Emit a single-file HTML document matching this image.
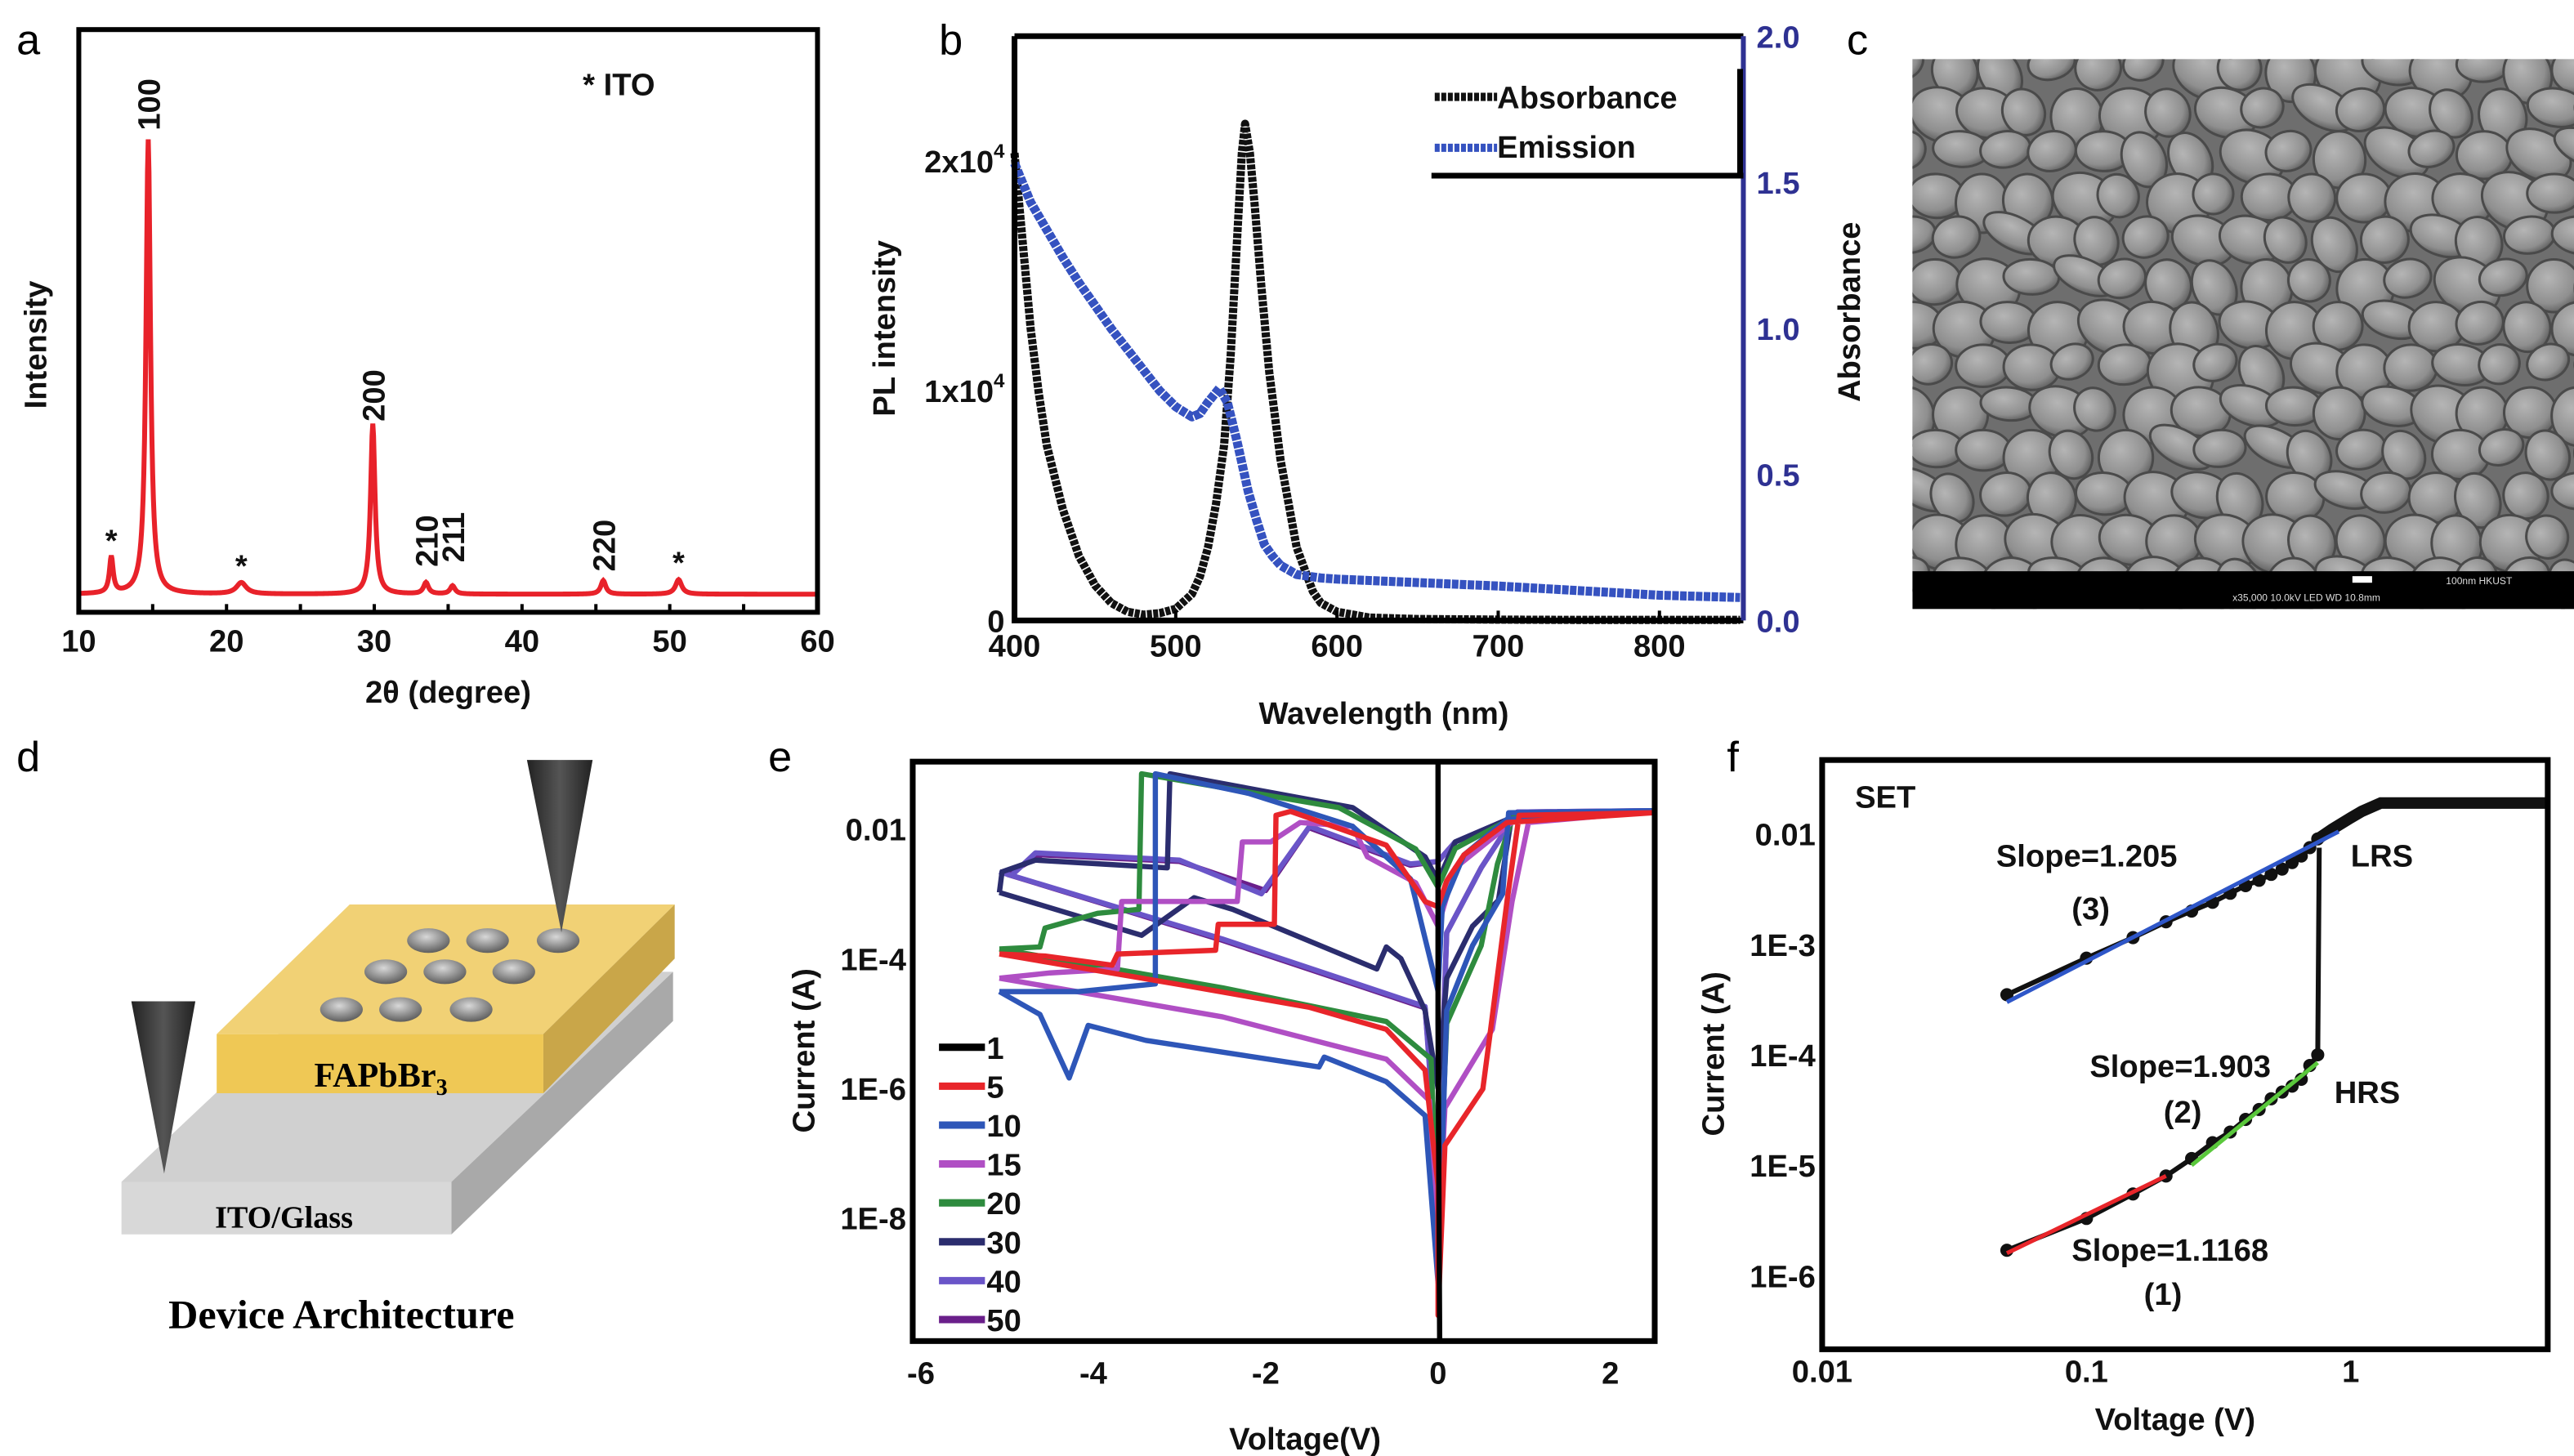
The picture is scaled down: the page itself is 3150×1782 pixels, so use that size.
<!DOCTYPE html>
<html><head><meta charset="utf-8"><style>
html,body{margin:0;padding:0;background:#fff;}
svg{display:block;}
text{font-family:"Liberation Sans",Arial,sans-serif;}
.t{font-weight:bold;font-size:19px;fill:#111;}
.serif{font-family:"Liberation Serif",serif;font-weight:bold;}
</style></head><body>
<svg id="fig" width="3150" height="1782" viewBox="0 0 1568 887" xmlns="http://www.w3.org/2000/svg">
<defs>
<radialGradient id="grain" cx="40%" cy="35%" r="70%"><stop offset="0" stop-color="#b5b5b5"/><stop offset="0.7" stop-color="#8f8f8f"/><stop offset="1" stop-color="#5a5a5a"/></radialGradient>
<radialGradient id="dot" cx="45%" cy="35%" r="65%"><stop offset="0" stop-color="#d8d8d8"/><stop offset="1" stop-color="#5e5e5e"/></radialGradient>
<linearGradient id="cone" x1="0" x2="1"><stop offset="0" stop-color="#222"/><stop offset="0.5" stop-color="#555"/><stop offset="1" stop-color="#222"/></linearGradient>
<clipPath id="semclip"><rect x="1165" y="36" width="403" height="335"/></clipPath>
</defs>
<text x="10" y="33" font-size="26">a</text>
<text x="572" y="33" font-size="26">b</text>
<text x="1125" y="33" font-size="26">c</text>
<text x="10" y="470" font-size="26">d</text>
<text x="468" y="470" font-size="26">e</text>
<text x="1052" y="470" font-size="26">f</text>

<g id="sem" clip-path="url(#semclip)">
<rect x="1165" y="36" width="403" height="335" fill="#6e6e6e"/>
<g id="grains"></g>
<rect x="1165" y="348" width="403" height="23" fill="#000"/>
<rect x="1433" y="351" width="12" height="4" fill="#fff"/>
<text x="1490" y="356" font-size="6" fill="#ddd" font-family="Liberation Mono">100nm HKUST</text>
<text x="1360" y="366" font-size="6" fill="#ddd" font-family="Liberation Mono">x35,000   10.0kV LED    WD 10.8mm</text>
</g>

<g>
<polygon points="74,720 275,720 410,592 210,592" fill="#d0d0d0"/>
<polygon points="275,720 275,752 410,622 410,592" fill="#a9a9a9"/>
<rect x="74" y="720" width="201" height="32" fill="#d8d8d8"/>
<polygon points="132,630 331,630 411,551 213,551" fill="#f1d175"/>
<polygon points="331,630 331,666 411,584 411,551" fill="#c9a649"/>
<rect x="132" y="630" width="199" height="36" fill="#efc855"/>
<g id="electrodes"></g>
<polygon points="321,463 361,463 342,568" fill="url(#cone)"/>
<polygon points="80,610 119,610 100,715" fill="url(#cone)"/>
<text x="232" y="662" text-anchor="middle" font-size="21" class="serif">FAPbBr<tspan font-size="14" dy="5">3</tspan></text>
<text x="173" y="748" text-anchor="middle" font-size="19" class="serif">ITO/Glass</text>
<text x="208" y="809" text-anchor="middle" font-size="25" class="serif">Device Architecture</text>
</g>
<g id="pa"></g><g id="pb"></g><g id="pe"></g><g id="pf"></g>
</svg>
<script>
const NS="http://www.w3.org/2000/svg";
function mk(tag,attrs,parent,txt){const e=document.createElementNS(NS,tag);for(const k in attrs)e.setAttribute(k,attrs[k]);if(txt!==undefined)e.textContent=txt;parent.appendChild(e);return e;}

const xrdPeakPos=[12.2,14.7,21.0,29.9,33.5,35.3,45.5,50.6];
const xrdPeakHeight=[8,100,2.5,37.5,2.5,1.8,3,3.2];
const xrdPeakWidth=[0.15,0.18,0.4,0.18,0.2,0.2,0.2,0.25];
const xrdTicks=[10,20,30,40,50,60];
const xrdLabels=[["100",14.7,102],["200",29.9,38],["210",33.5,6],["211",35.3,7],["220",45.5,5]];
const xrdStars=[12.2,21.0,50.6];

const absWl=[400,405,410,415,420,430,440,450,460,470,480,490,500,510,515,520,525,530,534,538,541,543,546,549,553,558,565,575,585,590,600,620,650,700,750,800,850];
const absVal=[1.6,1.3,1.0,0.78,0.6,0.38,0.22,0.12,0.06,0.03,0.02,0.025,0.04,0.09,0.15,0.25,0.4,0.6,0.9,1.3,1.6,1.7,1.6,1.42,1.15,0.85,0.55,0.25,0.1,0.06,0.03,0.01,0.005,0.003,0.002,0.002,0.002];
const plWl=[400,410,420,430,440,450,460,470,480,490,500,510,515,520,527,532,538,545,550,555,560,565,575,590,600,650,700,750,800,850];
const plVal=[1.99,1.82,1.7,1.58,1.47,1.37,1.27,1.18,1.09,1.0,0.93,0.886,0.9,0.95,1.01,0.95,0.78,0.56,0.44,0.33,0.28,0.24,0.2,0.185,0.18,0.165,0.15,0.13,0.11,0.10];
const bXTicks=[400,500,600,700,800];
const bRightTicks=[0,0.5,1.0,1.5,2.0];

const eNames=["1","5","10","15","20","30","40","50"];
const eColors=["#000","#e8252a","#2e56b8","#b04fc4","#2e8b3e","#2b2d6e","#6a55c8","#6a1f8a"];
const eV1=[0,0,0.02,0];
const eL1=[-0.95,-5,-9.9,-9.9];
const eV5=[-5.09,-3,-1.5,-0.6,-0.15,0,0,0.08,0.52,0.6,0.8,0.94,2.5,0.8,0.3,0.1,0,-0.15,-0.6,-1.71,-1.88,-1.9,-2.55,-2.58,-3.72,-3.78,-4.56,-5.09];
const eL5=[-3.93,-4.4,-4.75,-5.09,-5.72,-7.5,-9.5,-6.88,-6.01,-5.2,-3.12,-1.79,-1.75,-1.9,-2.4,-2.8,-3.2,-3.12,-2.25,-1.73,-1.79,-3.47,-3.47,-3.87,-3.93,-4.1,-3.96,-3.93];
const eV10=[-5.09,-4.62,-4.28,-4.06,-3.39,-1.38,-1.32,-0.6,-0.15,0,0.1,0.4,0.75,0.82,2.5,0.8,0.3,0.05,0,-0.32,-0.99,-2.2,-3.28,-3.28,-4.17,-5.09];
const eL10=[-4.51,-4.86,-5.84,-5.03,-5.26,-5.67,-5.52,-5.9,-6.42,-9,-4.8,-3.8,-3.0,-1.75,-1.72,-1.85,-2.4,-3.2,-4.5,-2.77,-1.96,-1.45,-1.15,-4.39,-4.51,-4.51];
const eV15=[-5.09,-2.5,-0.6,-0.1,0,0.08,0.63,0.86,1.05,2.5,0.9,0.2,0,-0.26,-0.82,-0.99,-1.6,-1.94,-2.27,-2.33,-3.67,-3.72,-4.5,-5.09];
const eL15=[-4.3,-4.9,-5.55,-6.19,-8.5,-6.3,-5.09,-3.12,-1.9,-1.73,-1.85,-2.6,-3.5,-2.83,-2.43,-1.96,-1.9,-2.2,-2.2,-3.12,-3.12,-4.16,-4.22,-4.3];
const eV20=[-5.09,-2.5,-0.6,-0.08,0,0.1,0.5,0.69,0.86,2.5,0.9,0.2,0,-0.26,-1.15,-3.44,-3.47,-3.95,-4.56,-4.62,-5.09];
const eL20=[-3.85,-4.45,-4.97,-5.55,-8.3,-5.0,-3.8,-2.54,-1.85,-1.74,-1.8,-2.3,-2.9,-2.31,-1.67,-1.15,-3.24,-3.3,-3.53,-3.82,-3.85];
const eV30=[-5.09,-3.44,-2.83,-2.38,-0.71,-0.6,-0.43,-0.15,0,0.1,0.4,0.7,0.85,2.5,0.9,0.2,0,-0.15,-0.99,-3.11,-3.14,-4.67,-5.06,-5.09];
const eL30=[-2.98,-3.64,-3.06,-3.24,-4.16,-3.82,-4.0,-4.8,-6.0,-4.3,-3.5,-3.1,-1.85,-1.74,-1.8,-2.2,-2.8,-2.43,-1.67,-1.15,-2.6,-2.48,-2.66,-2.98];
const eV40=[-5.09,-2.5,-0.15,0,0.1,0.5,0.92,2.5,0.9,0.2,0,-0.32,-1.49,-2.05,-3.0,-4.67,-4.95,-5.09];
const eL40=[-2.66,-3.7,-4.74,-7.5,-3.6,-2.6,-1.74,-1.72,-1.8,-2.2,-2.5,-2.54,-1.96,-3.0,-2.48,-2.37,-2.72,-2.66];
const eV50=[-5.0,-2.5,-0.15,0,0.1,0.5,0.92,2.5,0.9,0.2,0,-0.32,-1.5,-2.0,-3.0,-4.6,-5.0];
const eL50=[-2.7,-3.72,-4.76,-7.2,-3.6,-2.6,-1.74,-1.72,-1.8,-2.2,-2.5,-2.56,-1.98,-2.95,-2.5,-2.4,-2.7];
const eSeriesV=[eV1,eV5,eV10,eV15,eV20,eV30,eV40,eV50];
const eSeriesL=[eL1,eL5,eL10,eL15,eL20,eL30,eL40,eL50];
const eXTicks=[-6,-4,-2,0,2];
const eYTicks=[-2,-4,-6,-8];
const eYTickLabels=["0.01","1E-4","1E-6","1E-8"];

const fHrsV=[0.05,0.1,0.15,0.2,0.25,0.3,0.35,0.4,0.45,0.5,0.55,0.6,0.65,0.7,0.75];
const fHrsI=[1.7e-6,3.3e-6,5.5e-6,8e-6,1.15e-5,1.6e-5,2.0e-5,2.6e-5,3.2e-5,4.0e-5,4.6e-5,5.2e-5,6.0e-5,8e-5,1e-4];
const fLrsV=[0.05,0.1,0.15,0.2,0.25,0.3,0.35,0.4,0.45,0.5,0.55,0.6,0.65,0.7,0.75];
const fLrsI=[3.5e-4,7.5e-4,1.15e-3,1.6e-3,2.0e-3,2.4e-3,2.9e-3,3.4e-3,3.8e-3,4.3e-3,4.8e-3,5.5e-3,6.3e-3,7.5e-3,9e-3];
const fSatV=[0.75,0.85,1.0,1.1,1.3,1.6,2,2.5,3,3.5,4,4.5,5,5.5];
const fSatI=[9e-3,0.011,0.014,0.016,0.019,0.019,0.019,0.019,0.019,0.019,0.019,0.019,0.019,0.019];
const fFitV=[[0.05,0.2],[0.25,0.75],[0.05,0.9]];
const fFitI=[[1.6e-6,8e-6],[1e-5,8.5e-5],[3e-4,1.05e-2]];
const fFitColors=["#e8252a","#5ac83c","#2e56c8"];
const fXTicks=[0.01,0.1,1];
const fXTickLabels=["0.01","0.1","1"];
const fYTicks=[0.01,1e-3,1e-4,1e-5,1e-6];
const fYTickLabels=["0.01","1E-3","1E-4","1E-5","1E-6"];

(function(){const g=document.getElementById('grains');
for(let r=0;r<13;r++){for(let c=0;c<15;c++){
 const s=Math.sin(r*12.9898+c*78.233)*43758.5453, f=s-Math.floor(s);
 const s2=Math.sin(r*3.1+c*7.7)*9999, f2=s2-Math.floor(s2);
 const cx=1160+c*29+(r%2)*14+f*10, cy=38+r*26+f2*8, rx=12+f*9, ry=10+f2*8;
 const e=mk('ellipse',{cx:cx,cy:cy,rx:rx,ry:ry,fill:'url(#grain)',stroke:'#4a4a4a','stroke-width':1.5,transform:`rotate(${(f-0.5)*60} ${cx} ${cy})`},g);
 
 
}}})();
(function(){const g=document.getElementById('electrodes');
const pts=[[261,573],[297,573],[340,573],[235,592],[271,592],[313,592],[208,615],[244,615],[287,615]];
pts.forEach(p=>{const e=mk('ellipse',{cx:p[0],cy:p[1],rx:13,ry:7.5,fill:'url(#dot)'},g);
 
 });})();

(function(){const g=document.getElementById('pa');
const xa=v=>48+(v-10)*9, ya=v=>362-v*2.77;
const ser=[];for(let t=10;t<=60.001;t+=0.05){let s=0;for(let i=0;i<xrdPeakPos.length;i++){const w=xrdPeakWidth[i];s+=xrdPeakHeight[i]/(1+Math.pow((t-xrdPeakPos[i])/w,2));}ser.push(xa(t).toFixed(2)+','+ya(s).toFixed(2));}
const p=mk('polyline',{points:ser.join(' '),fill:'none',stroke:'#e8222a','stroke-width':3},g);


const box=mk('rect',{x:48,y:18,width:450,height:355,fill:'none',stroke:'#000','stroke-width':3},g);


for(let t=10;t<=60;t+=5){const tk=mk('line',{x1:xa(t),x2:xa(t),y1:373,y2:368,stroke:'#000','stroke-width':2},g);
 
 }
xrdTicks.forEach(t=>{const l=mk('text',{x:xa(t),y:397,'text-anchor':'middle',class:'t','font-size':20},g,String(t));
 
 });
xrdLabels.forEach(d=>{const x=xa(d[1])+7,y=ya(d[2]);const l=mk('text',{x:x,y:y,transform:`rotate(-90 ${x} ${y})`,class:'t','font-size':20},g,d[0]);
 
 });
xrdStars.forEach(s=>{const i=xrdPeakPos.indexOf(s);const l=mk('text',{x:xa(s),y:ya(xrdPeakHeight[i])-4,'text-anchor':'middle',class:'t','font-size':18},g,'*');
 
 });
const leg=mk('text',{x:355,y:58,class:'t','font-size':21},g,'*  ITO');


const xt=mk('text',{x:273,y:428,'text-anchor':'middle',class:'t','font-size':20},g,'2θ (degree)');


const yt=mk('text',{x:28,y:210,'text-anchor':'middle',class:'t','font-size':20,transform:'rotate(-90 28 210)'},g,'Intensity');


})();

(function(){const g=document.getElementById('pb');
const xb=w=>618+(w-400)*0.9822, yl=v=>378-v*140, yr=v=>378-v*178;
const ap=absWl.map((w,i)=>xb(w)+','+yr(absVal[i])).join(' ');
const a=mk('polyline',{points:ap,fill:'none',stroke:'#111','stroke-width':5,'stroke-dasharray':'3 0.8','stroke-linejoin':'round'},g);


const pp=plWl.map((w,i)=>xb(w)+','+yl(plVal[i])).join(' ');
const pl=mk('polyline',{points:pp,fill:'none',stroke:'#3552c0','stroke-width':5.5,'stroke-dasharray':'4 0.8','stroke-linejoin':'round'},g);


const box=mk('path',{d:'M618,22 H1062 M618,22 V378 H1062',fill:'none',stroke:'#000','stroke-width':3.5},g);


const rs=mk('line',{x1:1062,x2:1062,y1:22,y2:378,stroke:'#2e3192','stroke-width':3},g);


bXTicks.forEach(t=>{const l=mk('text',{x:xb(t),y:400,'text-anchor':'middle',class:'t','font-size':20},g,String(t));
 
 
 const tk=mk('line',{x1:xb(t),x2:xb(t),y1:378,y2:372,stroke:'#000','stroke-width':2},g);
 
 });
bRightTicks.forEach(t=>{const l=mk('text',{x:1070,y:yr(t)+7,class:'t','font-size':20,style:'fill:#2e3192'},g,t.toFixed(1));
 
 });
[["0",0],["1x10",1],["2x10",2]].forEach(d=>{const l=mk('text',{x:612,y:yl(d[1])+7,'text-anchor':'end',class:'t','font-size':19},g);
 
 
 if(d[1]>0){mk('tspan',{},l,d[0]);mk('tspan',{'font-size':12,dy:-9},l,'4');} else l.textContent=d[0];});
const yt=mk('text',{x:545,y:200,'text-anchor':'middle',class:'t','font-size':20,transform:'rotate(-90 545 200)'},g,'PL intensity');


const yt2=mk('text',{x:1133,y:190,'text-anchor':'middle',class:'t','font-size':20,transform:'rotate(-90 1133 190)'},g,'Absorbance');


const xt=mk('text',{x:843,y:441,'text-anchor':'middle',class:'t','font-size':20},g,'Wavelength (nm)');


const lb=mk('path',{d:'M872,107 H1062 M1060,42 V107',fill:'none',stroke:'#000','stroke-width':3.5},g);


const l1=mk('line',{x1:874,x2:912,y1:59,y2:59,stroke:'#111','stroke-width':5,'stroke-dasharray':'3 1'},g);


const t1=mk('text',{x:912,y:66,class:'t','font-size':20},g,'Absorbance');


const l2=mk('line',{x1:874,x2:912,y1:90,y2:90,stroke:'#3552c0','stroke-width':5,'stroke-dasharray':'3 1'},g);


const t2=mk('text',{x:912,y:96,class:'t','font-size':20},g,'Emission');


})();

(function(){const g=document.getElementById('pe');
const xe=v=>876+v*52.5, ye=l=>505-(l+2)*39.5;
for(let s=eSeriesV.length-1;s>=0;s--){const V=eSeriesV[s],L=eSeriesL[s];
 const pts=V.map((v,i)=>xe(v).toFixed(1)+','+ye(L[i]).toFixed(1)).join(' ');
 const p=mk('polyline',{points:pts,fill:'none',stroke:eColors[s],'stroke-width':3.2,'stroke-linejoin':'round'},g);
 
 }
const box=mk('rect',{x:556,y:464,width:452,height:353,fill:'none',stroke:'#000','stroke-width':3.5},g);


eXTicks.forEach(t=>{const l=mk('text',{x:xe(t),y:843,'text-anchor':'middle',class:'t','font-size':20},g,String(t));
 
 });
eYTicks.forEach((t,i)=>{const l=mk('text',{x:552,y:ye(t)+7,'text-anchor':'end',class:'t','font-size':20},g,eYTickLabels[i]);
 
 });
eNames.forEach((n,i)=>{const y=638+i*23.7;
 const sw=mk('line',{x1:572,x2:600,y1:y,y2:y,stroke:eColors[i],'stroke-width':4.5},g);
 
 
 const t=mk('text',{x:601,y:y+7,class:'t','font-size':18},g,n);
 
 });
const xt=mk('text',{x:795,y:883,'text-anchor':'middle',class:'t','font-size':21},g,'Voltage(V)');


const yt=mk('text',{x:496,y:640,'text-anchor':'middle',class:'t','font-size':21,transform:'rotate(-90 496 640)'},g,'Current (A)');


})();

(function(){const g=document.getElementById('pf');
const xf=v=>1432+Math.log10(v)*161, yf=i=>508-(Math.log10(i)+2)*67.3;
const line=(V,I)=>V.map((v,k)=>xf(v).toFixed(1)+','+yf(I[k]).toFixed(1)).join(' ');
const h=mk('polyline',{points:line(fHrsV,fHrsI)+' '+xf(0.76)+','+yf(7.5e-3),fill:'none',stroke:'#111','stroke-width':3},g);


const lr=mk('polyline',{points:line(fLrsV,fLrsI),fill:'none',stroke:'#111','stroke-width':3},g);


const st=mk('polyline',{points:line(fSatV,fSatI),fill:'none',stroke:'#111','stroke-width':7},g);


fHrsV.forEach((v,k)=>{const c=mk('circle',{cx:xf(v),cy:yf(fHrsI[k]),r:4,fill:'#111'},g);
 
 });
fLrsV.forEach((v,k)=>{const c=mk('circle',{cx:xf(v),cy:yf(fLrsI[k]),r:4,fill:'#111'},g);
 
 });
fFitV.forEach((V,k)=>{const l=mk('line',{x1:xf(V[0]),y1:yf(fFitI[k][0]),x2:xf(V[1]),y2:yf(fFitI[k][1]),stroke:fFitColors[k],'stroke-width':2.5},g);
 
 });
const box=mk('rect',{x:1110,y:463,width:442,height:359,fill:'none',stroke:'#000','stroke-width':3.5},g);


fXTicks.forEach((t,i)=>{const l=mk('text',{x:xf(t),y:842,'text-anchor':'middle',class:'t','font-size':20},g,fXTickLabels[i]);
 
 });
fYTicks.forEach((t,i)=>{const l=mk('text',{x:1106,y:yf(t)+7,'text-anchor':'end',class:'t','font-size':20},g,fYTickLabels[i]);
 
 });
const ann=[["SET",1130,492],["Slope=1.205",1216,528],["(3)",1262,560],["LRS",1432,528],["Slope=1.903",1273,656],["(2)",1318,684],["HRS",1422,672],["Slope=1.1168",1262,768],["(1)",1306,795]];
ann.forEach(a=>{const t=mk('text',{x:a[1],y:a[2],class:'t','font-size':19},g,a[0]);
 
 });
const xt=mk('text',{x:1325,y:871,'text-anchor':'middle',class:'t','font-size':20},g,'Voltage (V)');


const yt=mk('text',{x:1050,y:642,'text-anchor':'middle',class:'t','font-size':20,transform:'rotate(-90 1050 642)'},g,'Current (A)');


})();
</script>
</body></html>
